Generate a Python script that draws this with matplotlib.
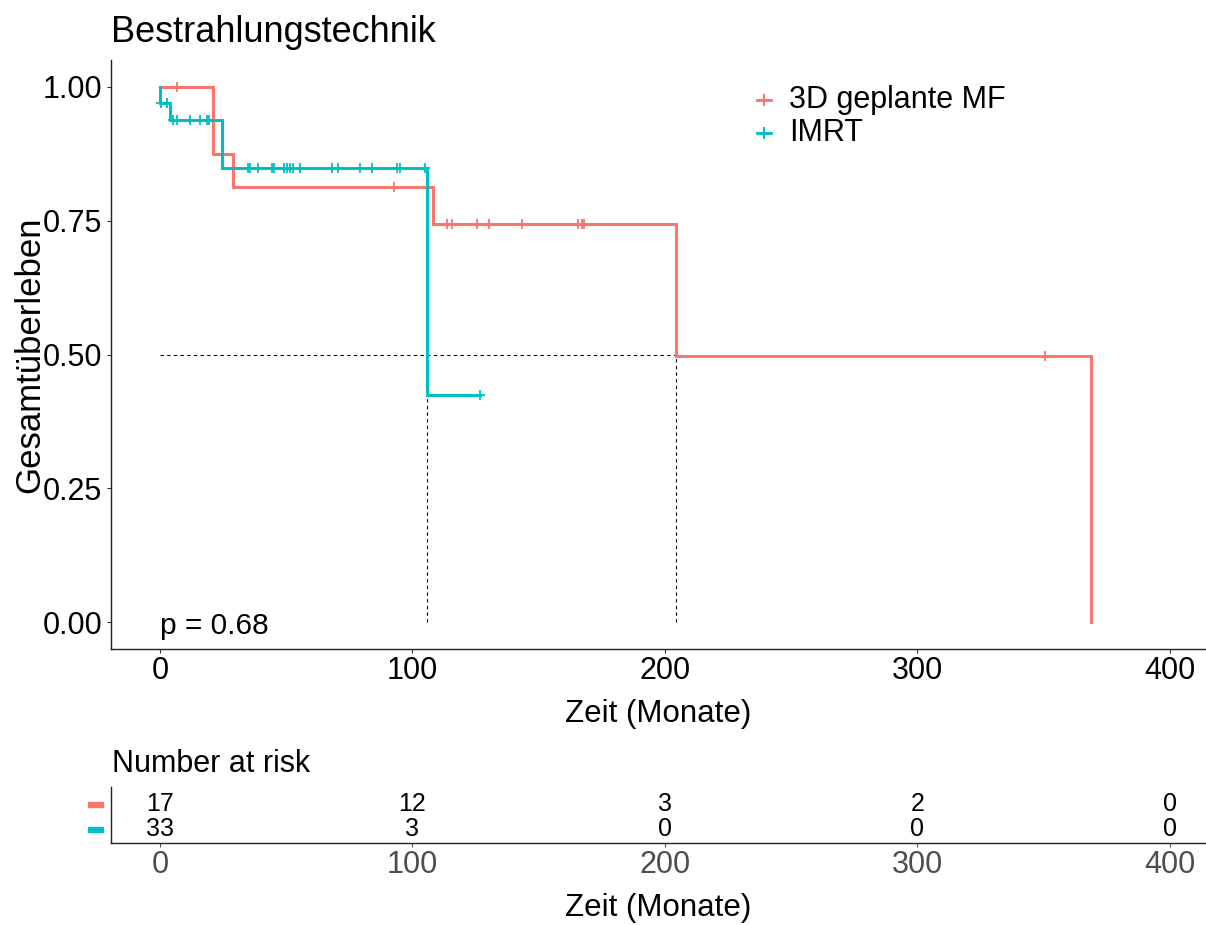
import numpy as np
import matplotlib.pyplot as plt
from matplotlib.lines import Line2D
from matplotlib.patches import Rectangle

plt.rcParams['font.family'] = ['Liberation Sans', 'DejaVu Sans']

# Kaplan-Meier steps (time in months, survival)
red_t = [0, 21.0, 28.8, 108.2, 204.2, 368.6]
red_s = [1.0, 0.875, 0.8125, 0.7448, 0.4966, 0.0]
red_cens = [6.6, 92.8, 113.5, 115.5, 125.4, 130.3, 143.2, 165.4, 167.0, 167.9, 350.5]

blue_t = [0, 0.2, 4.0, 24.7, 105.9, 126.7]
blue_s = [1.0, 0.9697, 0.938, 0.849, 0.4245, 0.4245]
blue_cens = [0.3, 2.6, 5.3, 6.8, 11.9, 15.8, 18.7, 19.5,
             34.7, 35.6, 38.7, 44.2, 45.3, 49.2, 50.2, 51.5, 52.8, 55.5,
             68.0, 70.6, 79.2, 84.1, 93.7, 95.0, 105.0, 126.7]

groups = ['3D geplante MF', 'IMRT']
colors = ['#F8766D', '#00BFC4']
risk_times = [0, 100, 200, 300, 400]
risk_red = [17, 12, 3, 2, 0]
risk_blue = [33, 3, 0, 0, 0]
median_red = 204.2
median_blue = 105.9
p_text = 'p = 0.68'


def surv_at(t, ts, ss):
    i = np.searchsorted(ts, t, side='right') - 1
    return np.asarray(ss)[i]


W, H = 1206, 925
fig = plt.figure(figsize=(W / 100, H / 100), dpi=100)

L, R = 110.5 / W, 1205 / W
ax = fig.add_axes([L, 1 - 648.75 / H, R - L, (648.75 - 60.25) / H])
xlim = (-19.6, 413.9)

# median lines
ax.plot([0, median_red], [0.5, 0.5], ls=(0, (3, 3)), color='k', lw=0.8)
ax.plot([median_blue, median_blue], [0, 0.5], ls=(0, (3, 3)), color='k', lw=0.8)
ax.plot([median_red, median_red], [0, 0.5], ls=(0, (3, 3)), color='k', lw=0.8)

for ts, ss, cens, c in [(red_t, red_s, red_cens, colors[0]),
                        (blue_t, blue_s, blue_cens, colors[1])]:
    ax.step(ts, ss, where='post', color=c, lw=2.2, solid_joinstyle='miter')
    cy = [surv_at(t, ts, ss) for t in cens]
    ax.plot(cens, cy, ls='none', marker='+', color=c, ms=7, mew=1.3)

ax.text(0, -0.022, p_text, fontsize=21.5, ha='left', va='baseline')

ax.set_xlim(*xlim)
ax.set_ylim(-0.05, 1.05)
ax.set_xticks(risk_times)
ax.set_yticks([0, 0.25, 0.5, 0.75, 1.0])
ax.set_yticklabels(['%.2f' % v for v in [0, 0.25, 0.5, 0.75, 1.0]])
ax.tick_params(labelsize=22, length=3, color='#333333', width=0.8)
ax.tick_params(axis='x', pad=2)
ax.tick_params(axis='y', pad=3)
for s in ['top', 'right']:
    ax.spines[s].set_visible(False)
for s in ['left', 'bottom']:
    ax.spines[s].set_linewidth(1.0)
    ax.spines[s].set_color('#222222')

fig.text(L, 1 - 42.3 / H, 'Bestrahlungstechnik', fontsize=26, ha='left', va='baseline')
fig.text((L + R) / 2, 1 - 722 / H, 'Zeit (Monate)', fontsize=22.5, ha='center', va='baseline')
fig.text(30 / W, 1 - 355 / H, 'Gesamtüberleben', fontsize=25, rotation=90,
         ha='center', va='center')

# legend drawn by hand
for i, (g, c) in enumerate(zip(groups, colors)):
    yy = 1 - (100 + 33 * i) / H
    fig.add_artist(Line2D([757 / W, 771 / W], [yy, yy], color=c, lw=2))
    fig.add_artist(Line2D([764 / W], [yy], marker='+', color=c, ms=8, mew=1.5))
    fig.text(789 / W, yy, g, fontsize=22, ha='left', va='center')

# risk table
axt = fig.add_axes([L, 1 - 843 / H, R - L, (843 - 787) / H])
axt.set_xlim(*xlim)
axt.set_ylim(-0.56, 1.68)
for t, a, b in zip(risk_times, risk_red, risk_blue):
    axt.text(t, 1, str(a), fontsize=18, ha='center', va='center')
    axt.text(t, 0, str(b), fontsize=18, ha='center', va='center')
for yv, c in [(1, colors[0]), (0, colors[1])]:
    axt.add_patch(Rectangle((-0.0206, yv - 0.1), 0.0137, 0.2, color=c,
                            transform=axt.get_yaxis_transform(), clip_on=False))
axt.set_xticks(risk_times)
axt.set_yticks([])
axt.tick_params(axis='x', labelsize=22, length=3, color='#555555', width=0.8,
                labelcolor='#4D4D4D', pad=2)
for s in ['top', 'right']:
    axt.spines[s].set_visible(False)
for s in ['left', 'bottom']:
    axt.spines[s].set_linewidth(1.0)
    axt.spines[s].set_color('#222222')

fig.text(L + 1 / W, 1 - 771.7 / H, 'Number at risk', fontsize=22, ha='left', va='baseline')
fig.text((L + R) / 2, 1 - 916 / H, 'Zeit (Monate)', fontsize=22.5, ha='center', va='baseline')

fig.savefig('out.png', dpi=100)
